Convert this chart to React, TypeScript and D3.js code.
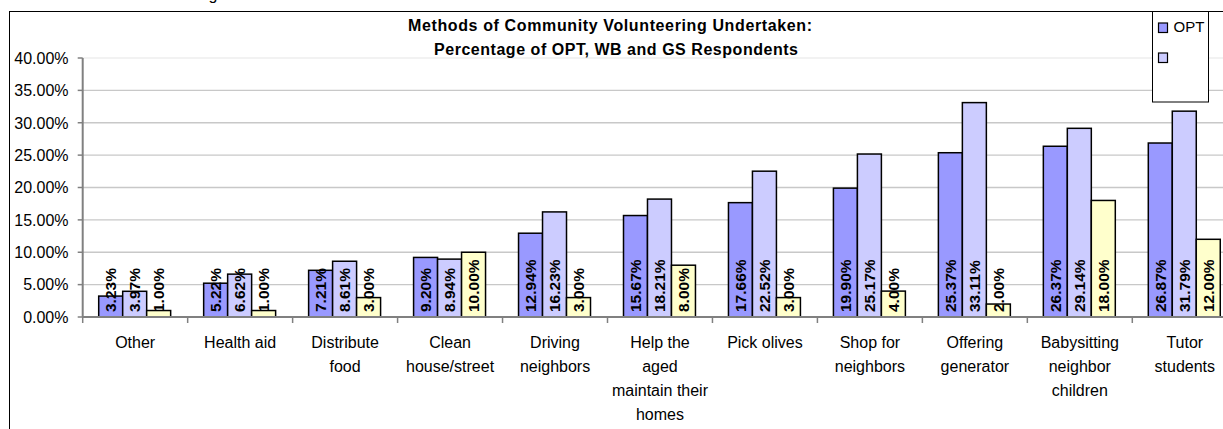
import React from "react";
import * as d3 from "d3";

const categories: string[][] = [
  ["Other"],
  ["Health aid"],
  ["Distribute", "food"],
  ["Clean", "house/street"],
  ["Driving", "neighbors"],
  ["Help the", "aged", "maintain their", "homes"],
  ["Pick olives"],
  ["Shop for", "neighbors"],
  ["Offering", "generator"],
  ["Babysitting", "neighbor", "children"],
  ["Tutor", "students"],
];
const seriesNames = ["OPT", "WB", "GS"];
const legendLabels = ["OPT", ""];
const optValues = [3.23, 5.22, 7.21, 9.2, 12.94, 15.67, 17.66, 19.9, 25.37, 26.37, 26.87];
const wbValues = [3.97, 6.62, 8.61, 8.94, 16.23, 18.21, 22.52, 25.17, 33.11, 29.14, 31.79];
const gsValues = [1.0, 1.0, 3.0, 10.0, 3.0, 8.0, 3.0, 4.0, 2.0, 18.0, 12.0];
const yTicks = [0, 5, 10, 15, 20, 25, 30, 35, 40];
const titleLines = [
  "Methods of Community Volunteering Undertaken:",
  "Percentage of OPT, WB and GS Respondents",
];

const colors = ["#9999FF", "#CCCCFF", "#FFFFCC"];
const FONT = "Arial, 'Liberation Sans', sans-serif";

export default function App() {
  const W = 1223;
  const H = 429;
  const plotLeft = 82.7;
  const catW = 104.96;
  const plotRight = plotLeft + catW * categories.length;
  const y0 = 317;
  const yTop = 58;

  const x = d3
    .scaleBand<number>()
    .domain(d3.range(categories.length))
    .range([plotLeft, plotRight])
    .padding(0);
  const inner = d3
    .scaleBand<number>()
    .domain([0, 1, 2])
    .range([16, catW - 17])
    .padding(0);
  const y = d3.scaleLinear().domain([0, 40]).range([y0, yTop]);
  const series = [optValues, wbValues, gsValues];
  const fmt = (v: number) => v.toFixed(2) + "%";

  return (
    <div style={{ position: "absolute", left: 0, top: 0, width: W, height: H, overflow: "hidden", background: "#fff" }}>
      <svg width={W} height={H} style={{ display: "block" }} fontFamily={FONT}>
        <rect x={0} y={0} width={W} height={H} fill="#fff" />
        <text x={208.5} y={0} fontSize={16} fill="#000">g</text>
        <rect x={9.5} y={11.5} width={1400} height={600} fill="#fff" stroke="#000" strokeWidth={1} />
        {/* gridlines */}
        {yTicks.map((t) => (
          <line
            key={"g" + t}
            x1={plotLeft}
            x2={plotRight}
            y1={y(t)}
            y2={y(t)}
            stroke={t === 40 ? "#eeeeee" : "#c8c8c8"}
            strokeWidth={1.3}
          />
        ))}
        {/* title */}
        <text x={610} y={31} textAnchor="middle" fontSize={16} fontWeight="bold" textLength={404} lengthAdjust="spacing">
          {titleLines[0]}
        </text>
        <text x={616} y={55} textAnchor="middle" fontSize={16} fontWeight="bold" textLength={364} lengthAdjust="spacing">
          {titleLines[1]}
        </text>
        {/* bars */}
        {categories.map((c, i) =>
          series.map((s, k) => {
            const bx = (x(i) as number) + (inner(k) as number);
            const bw = inner.bandwidth();
            const by = y(s[i]);
            return (
              <g key={`b${i}-${k}`}>
                <rect x={bx} y={by} width={bw} height={y0 - by} fill={colors[k]} stroke="#000" strokeWidth={1.5} />
              </g>
            );
          })
        )}
        {/* bar labels */}
        {categories.map((c, i) =>
          series.map((s, k) => {
            const cx = (x(i) as number) + (inner(k) as number) + inner.bandwidth() / 2;
            return (
              <text
                key={`l${i}-${k}`}
                transform={`translate(${cx},${y0 - 5}) rotate(-90)`}
                dy="0.36em"
                fontSize={15.5}
                fontWeight="bold"
                fill="#000"
              >
                {fmt(s[i])}
              </text>
            );
          })
        )}
        {/* axes */}
        <line x1={plotLeft} x2={plotLeft} y1={yTop} y2={y0} stroke="#808080" strokeWidth={2} />
        <line x1={plotLeft} x2={plotRight} y1={y0} y2={y0} stroke="#808080" strokeWidth={2} />
        {yTicks.map((t) => (
          <g key={"yt" + t}>
            <line x1={plotLeft - 5} x2={plotLeft} y1={y(t)} y2={y(t)} stroke="#808080" strokeWidth={1.5} />
            <text x={68.5} y={y(t)} dy="0.36em" textAnchor="end" fontSize={16} fill="#000">
              {t.toFixed(2) + "%"}
            </text>
          </g>
        ))}
        {d3.range(categories.length + 1).map((i) => (
          <line
            key={"xt" + i}
            x1={plotLeft + i * catW}
            x2={plotLeft + i * catW}
            y1={y0}
            y2={y0 + 6}
            stroke="#808080"
            strokeWidth={1.5}
          />
        ))}
        {categories.map((lines, i) => (
          <text key={"xl" + i} textAnchor="middle" fontSize={16} fill="#000">
            {lines.map((ln, j) => (
              <tspan key={j} x={(x(i) as number) + catW / 2} y={348 + j * 24}>
                {ln}
              </tspan>
            ))}
          </text>
        ))}
        {/* legend */}
        <rect x={1152.5} y={11.5} width={56} height={90.5} fill="#fff" stroke="#000" strokeWidth={1} />
        {legendLabels.map((lab, k) => (
          <g key={"lg" + k}>
            <rect x={1158.5} y={23 + k * 30} width={9} height={9.5} fill={colors[k]} stroke="#000" strokeWidth={1.2} />
            <text x={1173.5} y={32 + k * 30} fontSize={15} fill="#000">
              {lab}
            </text>
          </g>
        ))}
      </svg>
    </div>
  );
}
